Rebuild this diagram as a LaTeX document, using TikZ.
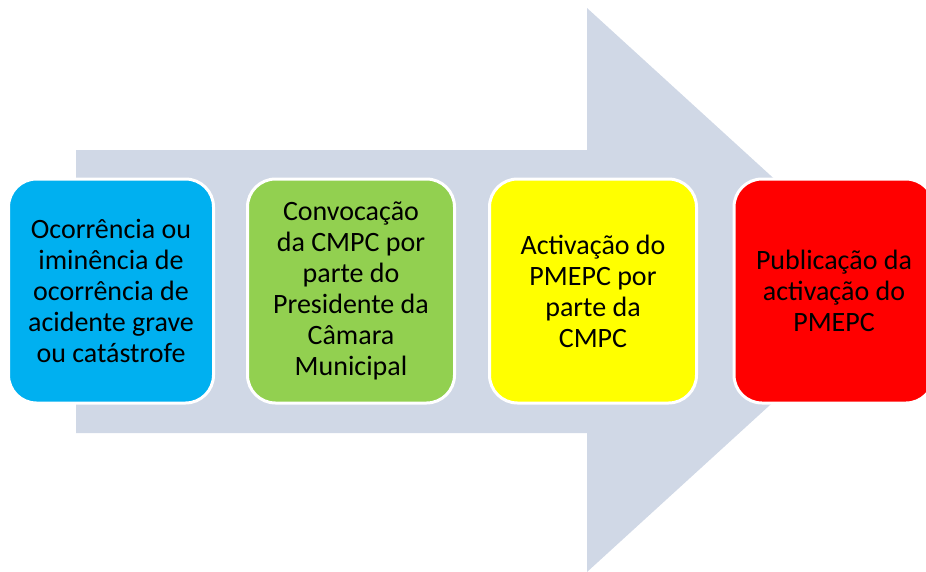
\documentclass[tikz,border=0pt]{standalone}
\usepackage{fontspec}
\setmainfont{Carlito}
\usepackage{xcolor}
\usetikzlibrary{positioning, calc}
\definecolor{setaazul}{HTML}{D0D8E6}
\definecolor{caixaazul}{HTML}{00B0F0}
\definecolor{caixaverde}{HTML}{92D050}
\definecolor{caixaamarela}{HTML}{FFFF00}
\definecolor{caixavermelha}{HTML}{FF0000}
\tikzset{
  etapa/.style={rectangle, rounded corners=28pt, draw=white, line width=3pt,
    minimum height=224pt, align=center, inner sep=2pt,
    font=\fontsize{28}{31}\selectfont}
}

\begin{document}
\begin{tikzpicture}[x=1pt,y=-1pt]
      \useasboundingbox (0,0) rectangle (926,571);
      \fill[setaazul](76,150)--(587,150)--(587,8)--(896,290)--(587,572)--(587,433)--(76,433)--cycle;%seta
      \node[etapa,fill=caixaazul,minimum width=205pt](ocorr) at (111,291)
        {Ocorrência ou\\iminência de\\ocorrência de\\acidente grave\\ou catástrofe};
      \node[etapa,fill=caixaverde,minimum width=207pt](convoc) at (351,291)
        {Convocação\\da CMPC por\\parte do\\Presidente da\\Câmara\\Municipal};
      \node[etapa,fill=caixaamarela,minimum width=207pt](activ) at (593,291)
        {Activação do\\PMEPC por\\parte da\\CMPC};
      \node[etapa,fill=caixavermelha,minimum width=200pt](public) at (834,291)
        {Publicação da\\activação do\\PMEPC};
    \end{tikzpicture}
\end{document}
